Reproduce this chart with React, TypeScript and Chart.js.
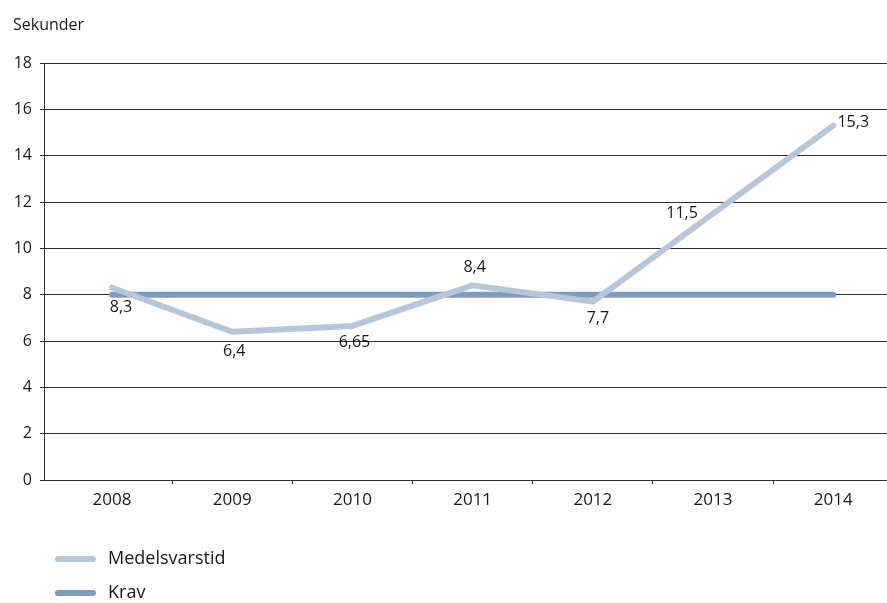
import React, { useEffect, useRef } from "react";
import { Chart, registerables } from "chart.js";

Chart.register(...registerables);

const years = ["2008", "2009", "2010", "2011", "2012", "2013", "2014"];
const medelsvarstid = [8.3, 6.4, 6.65, 8.4, 7.7, 11.5, 15.3];
const krav = [8, 8, 8, 8, 8, 8, 8];
const yMin = 0;
const yMax = 18;
const yStep = 2;
const yTitle = "Sekunder";

const FONT = "'Open Sans', 'DejaVu Sans', sans-serif";
const TEXT = "#1a1a1a";
const GRID = "#2e2e2e";
const C_MEDEL = "#b8c6d8";
const C_KRAV = "#7f9dbb";

// label offsets (dx, dy) relative to each point of Medelsvarstid
const labelOffsets: [number, number][] = [
  [9, 20],
  [2, 20],
  [2, 16],
  [2, -18],
  [5, 17],
  [-31, 0],
  [20, -3],
];

const fmt = (v: number) => String(v).replace(".", ",");

const overlayPlugin = {
  id: "overlay",
  afterDatasetsDraw(chart: any) {
    const ctx = chart.ctx;
    const area = chart.chartArea;
    ctx.save();
    // value labels
    const meta = chart.getDatasetMeta(0);
    ctx.font = `16px ${FONT}`;
    ctx.fillStyle = TEXT;
    ctx.textAlign = "center";
    ctx.textBaseline = "middle";
    meta.data.forEach((pt: any, i: number) => {
      const [dx, dy] = labelOffsets[i] || [0, 0];
      ctx.fillText(fmt(medelsvarstid[i]), pt.x + dx, pt.y + dy);
    });
    // title
    ctx.textAlign = "left";
    ctx.textBaseline = "alphabetic";
    ctx.font = `16px ${FONT}`;
    ctx.fillText(yTitle, 13, 30);
    // legend
    const items = chart.data.datasets;
    items.forEach((ds: any, i: number) => {
      const y = area.bottom + 79 + i * 34;
      ctx.strokeStyle = ds.borderColor;
      ctx.lineWidth = 6;
      ctx.lineCap = "round";
      ctx.beginPath();
      ctx.moveTo(58, y);
      ctx.lineTo(93, y);
      ctx.stroke();
      ctx.fillStyle = TEXT;
      ctx.font = `18px ${FONT}`;
      ctx.textBaseline = "middle";
      ctx.fillText(ds.label, 108, y);
    });
    ctx.restore();
  },
};

export default function App() {
  const ref = useRef<HTMLCanvasElement>(null);

  useEffect(() => {
    if (!ref.current) return;
    const chart = new Chart(ref.current, {
      type: "line",
      data: {
        datasets: [
          {
            label: "Medelsvarstid",
            data: medelsvarstid.map((v, i) => ({ x: i, y: v })),
            borderColor: C_MEDEL,
            backgroundColor: C_MEDEL,
            borderWidth: 6,
            pointRadius: 0,
            borderCapStyle: "round",
            borderJoinStyle: "round",
            tension: 0,
          },
          {
            label: "Krav",
            data: krav.map((v, i) => ({ x: i, y: v })),
            borderColor: C_KRAV,
            backgroundColor: C_KRAV,
            borderWidth: 6,
            pointRadius: 0,
            borderCapStyle: "round",
            borderJoinStyle: "round",
            tension: 0,
          },
        ],
      },
      options: {
        animation: false,
        responsive: false,
        devicePixelRatio: 1,
        layout: { padding: { left: 0, right: 0, top: 63, bottom: 0 } },
        plugins: {
          legend: { display: false },
          tooltip: { enabled: false },
        },
        scales: {
          x: {
            type: "linear",
            min: -0.566,
            max: 6.447,
            afterBuildTicks: (scale: any) => {
              const t: { value: number }[] = [];
              years.forEach((_, i) => {
                t.push({ value: i });
                if (i < years.length - 1) t.push({ value: i + 0.5 });
              });
              scale.ticks = t;
            },
            afterFit: (scale: any) => {
              scale.height = 123;
            },
            ticks: {
              autoSkip: false,
              maxRotation: 0,
              padding: 6,
              color: TEXT,
              font: { family: FONT, size: 17 },
              callback: (v: any) =>
                Number.isInteger(v) ? years[v] : "",
            },
            grid: {
              drawOnChartArea: false,
              drawTicks: true,
              tickLength: 4,
              color: (c: any) =>
                c.tick && !Number.isInteger(c.tick.value) ? GRID : "transparent",
            },
            border: { display: true, color: GRID, width: 1 },
          },
          y: {
            min: yMin,
            max: yMax,
            afterFit: (scale: any) => {
              scale.width = 44;
            },
            ticks: {
              stepSize: yStep,
              padding: 8,
              color: TEXT,
              font: { family: FONT, size: 16 },
            },
            grid: { color: GRID, tickLength: 4, lineWidth: 1 },
            border: { display: true, color: GRID, width: 1 },
          },
        },
      },
      plugins: [overlayPlugin],
    });
    return () => chart.destroy();
  }, []);

  return (
    <div style={{ position: "fixed", left: 0, top: 0, width: 887, height: 603, background: "#fff" }}>
      <canvas ref={ref} width={887} height={603} style={{ display: "block" }} />
    </div>
  );
}
